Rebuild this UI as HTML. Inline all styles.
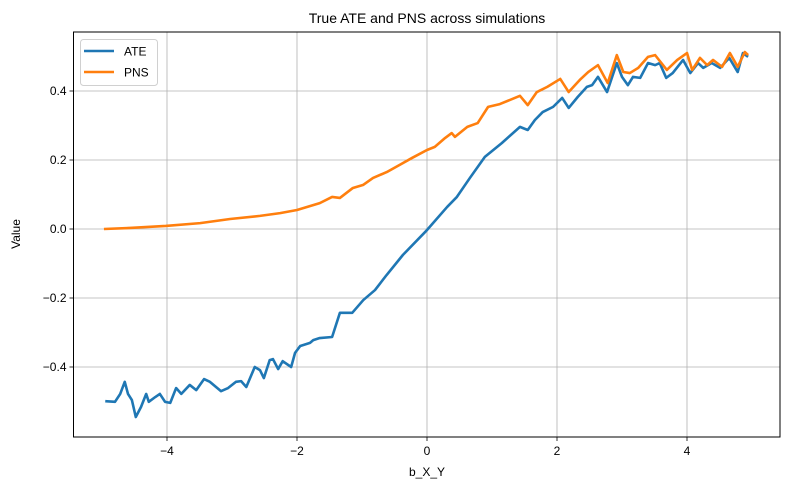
<!DOCTYPE html>
<html><head><meta charset="utf-8"><style>
body{margin:0;background:#fff;}
svg{display:block;font-family:"Liberation Sans","DejaVu Sans",sans-serif;}
</style></head><body>
<svg id="chart" width="790" height="490"></svg>
<script>
const ateX=[-4.95,-4.80,-4.72,-4.65,-4.60,-4.54,-4.48,-4.40,-4.32,-4.28,-4.18,-4.11,-4.03,-3.95,-3.86,-3.78,-3.65,-3.55,-3.43,-3.34,-3.17,-3.06,-2.94,-2.86,-2.78,-2.65,-2.57,-2.51,-2.42,-2.37,-2.29,-2.22,-2.09,-2.03,-1.95,-1.80,-1.75,-1.65,-1.46,-1.34,-1.15,-0.98,-0.80,-0.62,-0.37,0,0.31,0.46,0.66,0.89,1.15,1.43,1.55,1.66,1.78,1.94,2.08,2.18,2.32,2.46,2.54,2.63,2.77,2.92,3.0,3.09,3.17,3.28,3.40,3.51,3.58,3.68,3.78,3.94,4.05,4.17,4.25,4.38,4.51,4.65,4.78,4.86,4.94];
const ateY=[-0.499,-0.501,-0.478,-0.443,-0.478,-0.496,-0.545,-0.516,-0.478,-0.501,-0.487,-0.478,-0.501,-0.504,-0.461,-0.478,-0.452,-0.467,-0.435,-0.443,-0.470,-0.461,-0.443,-0.441,-0.458,-0.400,-0.409,-0.432,-0.380,-0.377,-0.406,-0.383,-0.400,-0.359,-0.339,-0.330,-0.322,-0.316,-0.313,-0.243,-0.243,-0.206,-0.177,-0.133,-0.075,-0.003,0.064,0.093,0.148,0.209,0.249,0.296,0.287,0.316,0.339,0.354,0.380,0.351,0.383,0.412,0.417,0.441,0.397,0.481,0.441,0.417,0.441,0.438,0.481,0.475,0.481,0.438,0.452,0.490,0.452,0.481,0.467,0.481,0.467,0.496,0.455,0.510,0.499];
const pnsX=[-4.97,-4.57,-4.02,-3.49,-3.03,-2.57,-2.26,-2.0,-1.65,-1.46,-1.34,-1.14,-0.98,-0.83,-0.62,-0.42,-0.23,0,0.12,0.28,0.38,0.43,0.62,0.78,0.94,1.12,1.43,1.55,1.69,1.85,2.05,2.18,2.35,2.48,2.63,2.78,2.92,3.02,3.12,3.25,3.40,3.51,3.69,3.85,4.0,4.08,4.2,4.31,4.40,4.54,4.66,4.78,4.89,4.94];
const pnsY=[0.0,0.003,0.009,0.017,0.029,0.038,0.046,0.055,0.075,0.093,0.090,0.119,0.128,0.148,0.165,0.186,0.206,0.229,0.238,0.264,0.278,0.267,0.296,0.307,0.354,0.362,0.386,0.359,0.397,0.412,0.435,0.397,0.432,0.455,0.475,0.423,0.504,0.455,0.452,0.467,0.499,0.504,0.461,0.490,0.510,0.461,0.496,0.475,0.490,0.470,0.510,0.470,0.513,0.504];
const xTicks=[-4,-2,0,2,4];
const yTicks=[-0.4,-0.2,0.0,0.2,0.4];

const L=73.5,R=780,T=32,B=437;
const sx=v=>427+v*65;
const sy=v=>229-v*345;
const svg=document.getElementById('chart');
const NS='http://www.w3.org/2000/svg';
function mk(tag,attrs,parent){const e=document.createElementNS(NS,tag);for(const k in attrs)e.setAttribute(k,attrs[k]);(parent||svg).appendChild(e);return e;}

const t=mk('text',{x:427,y:23,'text-anchor':'middle','font-size':14,fill:'#000'});


t.textContent='True ATE and PNS across simulations';

xTicks.forEach(v=>{
  const g=mk('line',{x1:sx(v),x2:sx(v),y1:T,y2:B,stroke:'#b0b0b0','stroke-width':0.8});
  
  
  mk('line',{x1:sx(v),x2:sx(v),y1:B,y2:B+4,stroke:'#000','stroke-width':0.8});
  const l=mk('text',{x:sx(v),y:B+18,'text-anchor':'middle','font-size':12,fill:'#000'});
  
  
  l.textContent=(v<0?'\u2212'+(-v):String(v));
});
yTicks.forEach(v=>{
  const g=mk('line',{x1:L,x2:R,y1:sy(v),y2:sy(v),stroke:'#b0b0b0','stroke-width':0.8});
  
  
  mk('line',{x1:L-4,x2:L,y1:sy(v),y2:sy(v),stroke:'#000','stroke-width':0.8});
  const l=mk('text',{x:L-7,y:sy(v)+4,'text-anchor':'end','font-size':12,fill:'#000'});
  
  
  l.textContent=(v<0?'\u2212':'')+Math.abs(v).toFixed(1);
});

function line(xs,ys,color,name){
  const p=mk('polyline',{points:xs.map((x,i)=>sx(x)+','+sy(ys[i])).join(' '),fill:'none',stroke:color,'stroke-width':2.6,'stroke-linejoin':'round'});
  
  
}
line(ateX,ateY,'#1f77b4','ate-line');
line(pnsX,pnsY,'#ff7f0e','pns-line');

const fr=mk('rect',{x:L,y:T,width:R-L,height:B-T,fill:'none',stroke:'#000','stroke-width':1});



const xl=mk('text',{x:427,y:476,'text-anchor':'middle','font-size':12,fill:'#000'});


xl.textContent='b_X_Y';
const yl=mk('text',{x:20,y:234,'text-anchor':'middle','font-size':12,fill:'#000',transform:'rotate(-90 20 234)'});


yl.textContent='Value';

const lg=mk('g',{});


mk('rect',{x:80.5,y:39.5,width:77,height:46,rx:3,fill:'#fff','fill-opacity':0.8,stroke:'#d0d0d0'},lg);
[['ATE','#1f77b4',51],['PNS','#ff7f0e',72]].forEach(([n,c,y])=>{
  mk('line',{x1:84,x2:114,y1:y,y2:y,stroke:c,'stroke-width':2.5},lg);
  const tx=mk('text',{x:124,y:y+4.5,'font-size':12,fill:'#000'},lg);
  
  
  tx.textContent=n;
});
</script>
</body></html>
